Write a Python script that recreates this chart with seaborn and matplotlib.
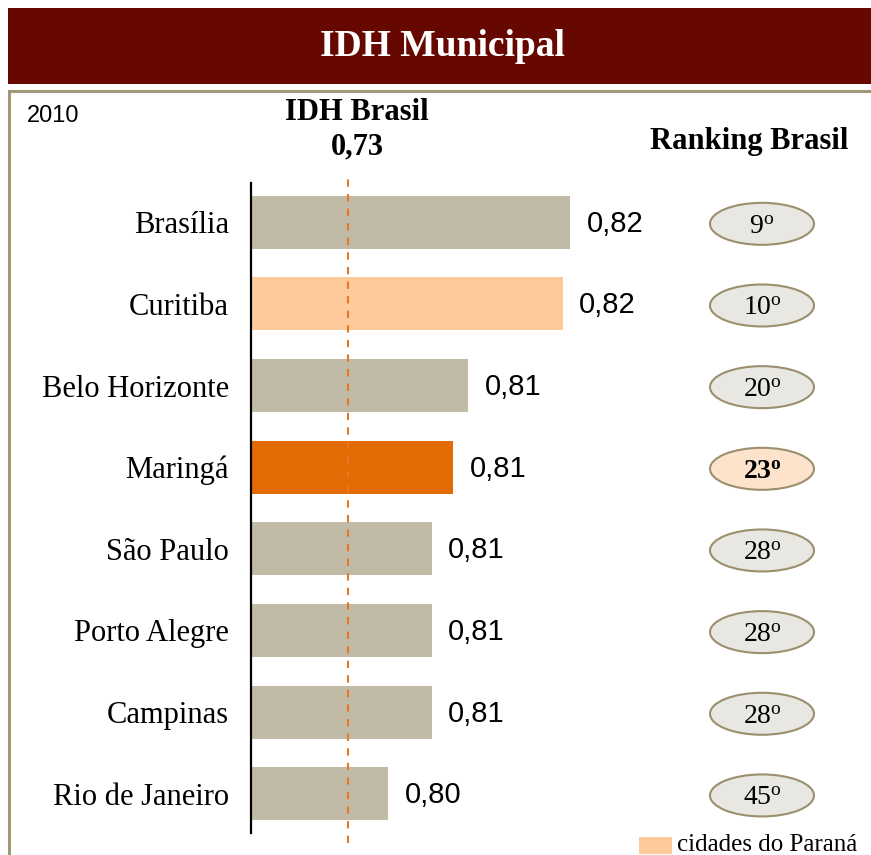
import matplotlib
matplotlib.use("Agg")
import matplotlib.pyplot as plt
from matplotlib.patches import Rectangle, Ellipse
import seaborn as sns
import pandas as pd

# ---------------- data ----------------
cities = ["Brasília", "Curitiba", "Belo Horizonte", "Maringá", "São Paulo",
          "Porto Alegre", "Campinas", "Rio de Janeiro"]
idh_values = [0.824, 0.823, 0.810, 0.808, 0.805, 0.805, 0.805, 0.799]
value_labels = ["0,82", "0,82", "0,81", "0,81", "0,81", "0,81", "0,81", "0,80"]
rankings = ["9", "10", "20", "23", "28", "28", "28", "45"]
group = ["other", "parana", "other", "highlight", "other", "other", "other", "other"]
idh_brasil_label = "0,73"
year_label = "2010"

# ---------------- styling ----------------
sns.set_theme(style="white")
plt.rcParams["font.family"] = ["Liberation Serif", "DejaVu Serif"]
plt.rcParams["text.color"] = "black"
plt.rcParams["mathtext.fontset"] = "custom"
plt.rcParams["mathtext.rm"] = "Liberation Serif"
plt.rcParams["mathtext.it"] = "Liberation Serif:italic"
plt.rcParams["mathtext.bf"] = "Liberation Serif:bold"

GRAY = "#C1BAA7"
PEACH = "#FEC99B"
ORANGE = "#E46A03"
DARKRED = "#660800"
FRAME = "#A29877"
ELL_FILL = "#E8E7E2"
ELL_EDGE = "#9C8F6E"
ELL_HI = "#FDE3CC"

color_map = {"other": GRAY, "parana": PEACH, "highlight": ORANGE}
palette = {c: color_map[g] for c, g in zip(cities, group)}

df = pd.DataFrame({"cidade": cities, "idh": idh_values})

W, H = 871, 855
fig = plt.figure(figsize=(W / 100, H / 100), dpi=100)
fig.patch.set_facecolor("white")

def fx(px):
    return px / W

def fy(py):
    return 1 - py / H

# banner
fig.patches.append(Rectangle((fx(8), fy(84)), fx(871 - 8), 76 / H,
                             transform=fig.transFigure, facecolor=DARKRED,
                             edgecolor="none", zorder=0))
fig.text(fx(442), fy(46), "IDH Municipal", color="white", fontsize=27,
         fontweight="bold", ha="center", va="center")

# frame (top and left edges visible; right/bottom fall outside the image)
fig.patches.append(Rectangle((fx(9), fy(920)), fx(900 - 9), (920 - 91) / H,
                             transform=fig.transFigure, facecolor="none",
                             edgecolor=FRAME, linewidth=2.2, zorder=0))

# axes
ax_left, ax_right, ax_top, ax_bot = 251, 871, 183, 833
ax = fig.add_axes([fx(ax_left), fy(ax_bot), fx(ax_right - ax_left),
                   (ax_bot - ax_top) / H])
ax.set_facecolor("none")

sns.barplot(data=df, x="idh", y="cidade", hue="cidade", palette=palette,
            orient="h", width=0.65, legend=False, ax=ax, saturation=1,
            edgecolor="none")

xmin = 0.7802
px_per_unit = 7280.0
xmax = xmin + (ax_right - ax_left) / px_per_unit
ax.set_xlim(xmin, xmax)
ax.set_ylim(len(cities) - 1 + 0.48, -0.48)

for s in ["top", "right", "bottom"]:
    ax.spines[s].set_visible(False)
ax.spines["left"].set_color("black")
ax.spines["left"].set_linewidth(1.6)
ax.xaxis.set_visible(False)
ax.set_ylabel("")
ax.tick_params(axis="y", length=0, pad=16, labelsize=22, labelcolor="black")
for t in ax.get_yticklabels():
    t.set_fontfamily(["Liberation Serif", "DejaVu Serif"])

# value labels
for i, (v, lab) in enumerate(zip(idh_values, value_labels)):
    ax.annotate(lab, xy=(v, i), xytext=(12, -1), textcoords="offset points",
                ha="left", va="center", fontsize=21,
                fontfamily=["Liberation Sans", "DejaVu Sans"], color="black")

# Brasil reference line (broken axis marker)
brasil_marker_pos = xmin + 97 / px_per_unit
ax.plot([brasil_marker_pos, brasil_marker_pos], [-0.016, 1.009],
        transform=ax.get_xaxis_transform(), color="#E87722", linewidth=1.5,
        linestyle=(0, (3.5, 3.5)), clip_on=False, zorder=5)

# ranking ellipses
ell_cx = xmin + (762 - ax_left) / px_per_unit
ell_w = 104 / px_per_unit
units_per_px_y = (len(cities) - 1 + 0.96) / (ax_bot - ax_top)
ell_h = 42 * units_per_px_y
for i, (r, g) in enumerate(zip(rankings, group)):
    hi = g == "highlight"
    ax.add_patch(Ellipse((ell_cx, i + 0.02), ell_w, ell_h,
                         facecolor=ELL_HI if hi else ELL_FILL,
                         edgecolor=ELL_EDGE, linewidth=1.5, zorder=3))
    txt = r"$\mathbf{%s^{o}}$" % r if hi else r"$\mathrm{%s^{o}}$" % r
    ax.text(ell_cx, i + 0.06, txt, ha="center", va="center", fontsize=20,
            color="black", zorder=4)

# headers
fig.text(fx(357), fy(112), "IDH Brasil", fontsize=22, fontweight="bold",
         ha="center", va="center")
fig.text(fx(357), fy(147), idh_brasil_label, fontsize=22, fontweight="bold",
         ha="center", va="center")
fig.text(fx(749), fy(142), "Ranking Brasil", fontsize=22, fontweight="bold",
         ha="center", va="center")
fig.text(fx(27), fy(116), year_label, fontsize=17,
         fontfamily=["Liberation Sans", "DejaVu Sans"], ha="left", va="center")

# legend
fig.patches.append(Rectangle((fx(639), fy(854)), fx(33), 17 / H,
                             transform=fig.transFigure, facecolor=PEACH,
                             edgecolor="none"))
fig.text(fx(677), fy(845), "cidades do Paraná", fontsize=18,
         ha="left", va="center")

fig.savefig("out.png", dpi=100, facecolor="white")
